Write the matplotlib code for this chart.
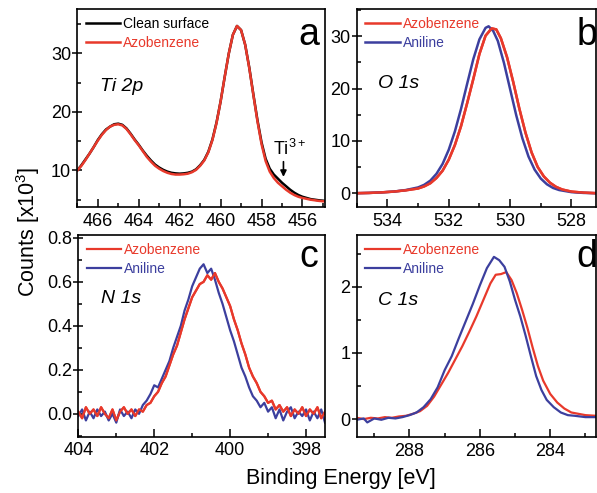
import matplotlib
matplotlib.use("Agg")
import matplotlib.pyplot as plt
from matplotlib.ticker import MultipleLocator

RED = "#e8392b"
BLUE = "#3c3f9e"

# Ti 2p
ti_energy = [467.0, 466.8, 466.6, 466.4, 466.2, 466.0, 465.8, 465.6, 465.4, 465.2,
             465.0, 464.8, 464.6, 464.4, 464.2, 464.0, 463.8, 463.6, 463.4, 463.2,
             463.0, 462.8, 462.6, 462.4, 462.2, 462.0, 461.8, 461.6, 461.4, 461.2,
             461.0, 460.8, 460.6, 460.4, 460.2, 460.0, 459.8, 459.6, 459.4, 459.2,
             459.0, 458.8, 458.6, 458.4, 458.2, 458.0, 457.8, 457.6, 457.4, 457.2,
             457.0, 456.8, 456.6, 456.4, 456.2, 456.0, 455.6, 455.2, 454.9]
ti_clean = [10.0, 10.9, 11.9, 12.9, 14.0, 15.2, 16.2, 17.0, 17.5, 17.9,
            18.0, 17.8, 17.2, 16.3, 15.3, 14.4, 13.4, 12.5, 11.7, 11.0,
            10.5, 10.1, 9.8, 9.6, 9.5, 9.45, 9.5, 9.6, 9.8, 10.2,
            10.9, 11.8, 13.2, 15.3, 18.2, 21.8, 26.0, 30.0, 33.2, 34.7,
            34.0, 31.5, 27.6, 23.0, 18.6, 14.8, 12.0, 10.3, 9.3, 8.6,
            7.9, 7.3, 6.7, 6.2, 5.8, 5.5, 5.1, 4.9, 4.8]
ti_azo = [10.0, 10.8, 11.8, 12.9, 14.0, 15.1, 16.1, 16.9, 17.5, 17.8,
          17.9, 17.7, 17.1, 16.2, 15.2, 14.3, 13.3, 12.3, 11.5, 10.8,
          10.3, 9.9, 9.6, 9.4, 9.3, 9.3, 9.35, 9.45, 9.7, 10.1,
          10.8, 11.7, 13.1, 15.2, 18.1, 21.8, 26.0, 30.0, 33.2, 34.7,
          34.0, 31.5, 27.5, 22.9, 18.4, 14.5, 11.6, 9.8, 8.7, 7.9,
          7.3, 6.7, 6.2, 5.8, 5.5, 5.3, 5.0, 4.8, 4.7]

# O 1s
o_energy_azo = [535.0, 534.6, 534.2, 533.8, 533.4, 533.0, 532.8, 532.6, 532.4, 532.2,
                532.0, 531.8, 531.6, 531.4, 531.2, 531.0, 530.8, 530.6, 530.45, 530.3,
                530.1, 529.9, 529.7, 529.5, 529.3, 529.1, 528.9, 528.7, 528.5, 528.3,
                528.0, 527.6, 527.2]
o_azo = [0.0, 0.05, 0.15, 0.3, 0.55, 0.9, 1.3, 1.9, 2.9, 4.3,
         6.4, 9.2, 12.8, 17.2, 21.8, 26.6, 30.1, 31.5, 31.3, 29.6,
         26.0, 21.3, 16.2, 11.6, 7.8, 5.0, 3.2, 2.0, 1.2, 0.7,
         0.3, 0.1, 0.0]
o_energy_ani = [535.0, 534.6, 534.2, 533.8, 533.4, 533.0, 532.8, 532.6, 532.4, 532.2,
                532.0, 531.8, 531.6, 531.4, 531.2, 531.0, 530.8, 530.7, 530.55, 530.4,
                530.2, 530.0, 529.8, 529.6, 529.4, 529.2, 529.0, 528.8, 528.6, 528.4,
                528.0, 527.6, 527.2]
o_ani = [0.0, 0.05, 0.15, 0.3, 0.6, 1.1, 1.6, 2.4, 3.7, 5.6,
         8.3, 11.8, 16.1, 20.9, 25.6, 29.4, 31.6, 31.9, 31.0, 29.1,
         24.9, 19.9, 14.9, 10.5, 7.0, 4.5, 2.8, 1.7, 1.0, 0.6,
         0.2, 0.05, 0.0]

# N 1s
n_energy = [404.0, 403.9, 403.8, 403.7, 403.6, 403.5, 403.4, 403.3, 403.2, 403.1,
            403.0, 402.9, 402.8, 402.7, 402.6, 402.5, 402.4, 402.3, 402.2, 402.1,
            402.0, 401.9, 401.8, 401.7, 401.6, 401.5, 401.4, 401.3, 401.2, 401.1,
            401.0, 400.9, 400.8, 400.7, 400.6, 400.5, 400.4, 400.3, 400.2, 400.1,
            400.0, 399.9, 399.8, 399.7, 399.6, 399.5, 399.4, 399.3, 399.2, 399.1,
            399.0, 398.9, 398.8, 398.7, 398.6, 398.5, 398.4, 398.3, 398.2, 398.1,
            398.0, 397.9, 397.8, 397.7, 397.6, 397.5]
n_azo = [0.01, -0.02, 0.03, 0.00, 0.02, -0.01, 0.03, 0.00, -0.02, 0.02,
         -0.03, 0.01, 0.03, 0.00, 0.02, -0.01, 0.02, 0.01, 0.04, 0.05,
         0.08, 0.10, 0.14, 0.17, 0.22, 0.27, 0.31, 0.37, 0.43, 0.48,
         0.53, 0.56, 0.59, 0.60, 0.63, 0.61, 0.64, 0.60, 0.57, 0.53,
         0.49, 0.43, 0.38, 0.32, 0.27, 0.21, 0.17, 0.14, 0.10, 0.08,
         0.05, 0.06, 0.02, 0.04, 0.01, 0.03, -0.01, 0.02, 0.00, 0.03,
         -0.01, 0.02, 0.00, 0.03, -0.02, 0.01]
n_ani = [-0.01, 0.02, -0.03, 0.01, -0.02, 0.02, -0.01, 0.01, -0.03, 0.00,
         -0.04, 0.02, -0.01, 0.01, -0.02, 0.02, 0.00, 0.04, 0.06, 0.09,
         0.13, 0.12, 0.16, 0.20, 0.24, 0.30, 0.35, 0.40, 0.47, 0.52,
         0.58, 0.62, 0.66, 0.68, 0.64, 0.66, 0.61, 0.55, 0.50, 0.44,
         0.38, 0.33, 0.27, 0.21, 0.17, 0.12, 0.08, 0.06, 0.03, 0.05,
         0.01, 0.03, -0.02, 0.02, -0.03, 0.01, 0.03, -0.02, 0.01, -0.01,
         0.02, -0.03, 0.01, -0.02, 0.02, -0.04]

# C 1s
c_energy_azo = [289.5, 289.3, 289.1, 288.9, 288.7, 288.5, 288.3, 288.1, 287.9, 287.7,
                287.5, 287.3, 287.1, 286.9, 286.7, 286.5, 286.3, 286.1, 285.9, 285.7,
                285.55, 285.4, 285.25, 285.1, 284.95, 284.8, 284.65, 284.5, 284.35, 284.2,
                284.0, 283.8, 283.6, 283.4, 283.2, 283.0, 282.7]
c_azo = [0.02, 0.00, 0.02, 0.01, 0.03, 0.02, 0.04, 0.05, 0.08, 0.12,
         0.20, 0.34, 0.52, 0.70, 0.90, 1.10, 1.32, 1.55, 1.80, 2.05,
         2.18, 2.19, 2.22, 2.10, 1.90, 1.65, 1.38, 1.08, 0.80, 0.58,
         0.38, 0.25, 0.16, 0.10, 0.08, 0.06, 0.05]
c_energy_ani = [289.5, 289.3, 289.2, 289.0, 288.8, 288.6, 288.4, 288.2, 288.0, 287.8,
                287.6, 287.4, 287.2, 287.0, 286.8, 286.6, 286.4, 286.2, 286.0, 285.8,
                285.6, 285.45, 285.3, 285.15, 285.0, 284.85, 284.7, 284.55, 284.4, 284.25,
                284.1, 283.9, 283.7, 283.5, 283.3, 283.0, 282.7]
c_ani = [-0.01, 0.01, -0.05, 0.01, -0.01, 0.02, 0.01, 0.03, 0.06, 0.10,
         0.18, 0.30, 0.48, 0.74, 0.95, 1.22, 1.48, 1.74, 2.02, 2.28,
         2.45, 2.40, 2.30, 2.08, 1.80, 1.55, 1.26, 0.95, 0.65, 0.44,
         0.29, 0.18, 0.10, 0.06, 0.05, 0.03, 0.03]

plt.rcParams["font.family"] = "Liberation Sans"
plt.rcParams["mathtext.default"] = "regular"


def style_axes(ax, xlim, ylim, xstep, ystep, letter, name, name_y):
    ax.set_xlim(*xlim)
    ax.set_ylim(*ylim)
    ax.xaxis.set_major_locator(MultipleLocator(xstep))
    ax.xaxis.set_minor_locator(MultipleLocator(xstep / 2))
    ax.yaxis.set_major_locator(MultipleLocator(ystep))
    ax.yaxis.set_minor_locator(MultipleLocator(ystep / 2))
    ax.tick_params(axis="x", which="major", direction="in", length=6, width=1.1, labelsize=13, pad=4)
    ax.tick_params(axis="x", which="minor", direction="in", length=3, width=1.1)
    ax.tick_params(axis="y", which="major", direction="inout", length=7, width=1.1, labelsize=13, pad=1)
    ax.tick_params(axis="y", which="minor", direction="in", length=3, width=1.1)
    for s in ax.spines.values():
        s.set_linewidth(1.2)
    ax.legend(loc="upper left", frameon=False, fontsize=10, handlelength=2.5,
              handletextpad=0.2, labelspacing=0.3, borderaxespad=0.2,
              labelcolor="linecolor")
    ax.text(0.935, 0.82, letter, transform=ax.transAxes, fontsize=27,
            ha="center", va="baseline")
    ax.text(0.09, name_y, name, transform=ax.transAxes, fontsize=14,
            style="italic", ha="left", va="baseline")


fig = plt.figure(figsize=(5.97, 4.93), dpi=100)
ax_a = fig.add_axes([0.1295, 0.5795, 0.4149, 0.4022])
ax_b = fig.add_axes([0.5975, 0.5795, 0.4008, 0.4022])
ax_c = fig.add_axes([0.1312, 0.1146, 0.4132, 0.4087])
ax_d = fig.add_axes([0.5975, 0.1136, 0.4008, 0.4097])

ax_a.plot(ti_energy, ti_clean, color="black", lw=1.8, label="Clean surface")
ax_a.plot(ti_energy, ti_azo, color=RED, lw=1.8, label="Azobenzene")
style_axes(ax_a, (467, 454.9), (3.7, 37.6), 2, 10, "a", "Ti 2p", 0.585)
ax_a.annotate("", xy=(456.93, 8.9), xytext=(456.93, 11.5),
              arrowprops=dict(arrowstyle="-|>", color="black", lw=1.2,
                              mutation_scale=9, shrinkA=0, shrinkB=0))
ax_a.text(457.45, 11.9, "Ti$^{3+}$", fontsize=13, ha="left", va="bottom")

ax_b.plot(o_energy_azo, o_azo, color=RED, lw=1.8, label="Azobenzene")
ax_b.plot(o_energy_ani, o_ani, color=BLUE, lw=1.8, label="Aniline")
ax_b.plot(o_energy_azo, o_azo, color=RED, lw=1.8)
style_axes(ax_b, (535, 527.2), (-2.7, 35.2), 2, 10, "b", "O 1s", 0.60)
ax_b.texts[0].set_x(0.962)

ax_c.plot(n_energy, n_azo, color=RED, lw=1.6, label="Azobenzene")
ax_c.plot(n_energy, n_ani, color=BLUE, lw=1.6, label="Aniline")
ax_c.plot(n_energy, n_azo, color=RED, lw=1.6)
style_axes(ax_c, (404, 397.5), (-0.103, 0.813), 2, 0.2, "c", "N 1s", 0.662)
ax_c.texts[0].set_y(0.842)

ax_d.plot(c_energy_azo, c_azo, color=RED, lw=1.6, label="Azobenzene")
ax_d.plot(c_energy_ani, c_ani, color=BLUE, lw=1.6, label="Aniline")
style_axes(ax_d, (289.5, 282.7), (-0.27, 2.78), 2, 1, "d", "C 1s", 0.653)
ax_d.texts[0].set_x(0.962)
ax_d.texts[0].set_y(0.842)

fig.text(0.047, 0.53, "Counts [x10$^3$]", rotation=90, fontsize=15.5, ha="center", va="center")
fig.text(0.571, 0.03, "Binding Energy [eV]", fontsize=15.5, ha="center", va="center")

fig.savefig("out.png", dpi=100)
plt.close(fig)
